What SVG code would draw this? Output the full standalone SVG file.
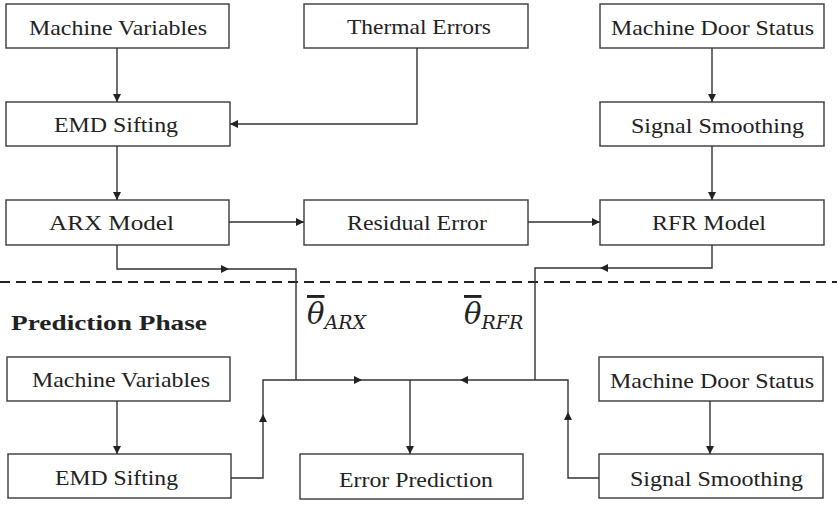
<svg xmlns="http://www.w3.org/2000/svg" width="837" height="506" viewBox="0 0 837 506">
<defs>
<style>
.box{fill:#fff;stroke:#3a3a3a;stroke-width:1.4}
.t{font-family:"Liberation Serif",Tinos,"Times New Roman","DejaVu Serif",serif;font-size:21px;fill:#222;text-anchor:middle}
.ln{fill:none;stroke:#333;stroke-width:1.4}
.ah{fill:#222}
.th{font-family:"DejaVu Serif","Liberation Serif",serif;font-style:italic;fill:#222}
</style>
<marker id="arr" viewBox="0 0 10 10" refX="10" refY="5" markerWidth="8" markerHeight="8" markerUnits="userSpaceOnUse" orient="auto">
<path d="M0,0 L10,5 L0,10 Z" fill="#222"/>
</marker>
</defs>
<rect width="837" height="506" fill="#fff"/>

<g id="n-machine-variables-top"><rect class="box" x="6" y="4" width="223" height="44"/><text class="t" x="118" y="35" textLength="178" lengthAdjust="spacingAndGlyphs">Machine Variables</text></g>
<g id="n-thermal-errors"><rect class="box" x="304" y="4" width="224" height="44"/><text class="t" x="419" y="34" textLength="144" lengthAdjust="spacingAndGlyphs">Thermal Errors</text></g>
<g id="n-door-top"><rect class="box" x="600" y="4" width="224" height="44"/><text class="t" x="712.5" y="35" textLength="203" lengthAdjust="spacingAndGlyphs">Machine Door Status</text></g>
<g id="n-emd-top"><rect class="box" x="6" y="102" width="224" height="44"/><text class="t" x="116" y="132" textLength="124" lengthAdjust="spacingAndGlyphs">EMD Sifting</text></g>
<g id="n-smooth-top"><rect class="box" x="600" y="102" width="224" height="44"/><text class="t" x="717.5" y="133" textLength="173" lengthAdjust="spacingAndGlyphs">Signal Smoothing</text></g>
<g id="n-arx"><rect class="box" x="6" y="200" width="223" height="45"/><text class="t" x="111.5" y="230" textLength="125" lengthAdjust="spacingAndGlyphs">ARX  Model</text></g>
<g id="n-residual"><rect class="box" x="304" y="200" width="224" height="45"/><text class="t" x="417" y="230" textLength="140" lengthAdjust="spacingAndGlyphs">Residual Error</text></g>
<g id="n-rfr"><rect class="box" x="600" y="200" width="224" height="45"/><text class="t" x="709" y="230" textLength="114" lengthAdjust="spacingAndGlyphs">RFR Model</text></g>

<g id="n-phase-label"><text x="11" y="330" textLength="196" lengthAdjust="spacingAndGlyphs" style="font-family:'Liberation Serif',Tinos,'Times New Roman','DejaVu Serif',serif;font-weight:bold;font-size:22px;fill:#222">Prediction Phase</text></g>
<g id="n-theta-arx"><text class="th" x="307" y="324" font-size="29"><tspan text-decoration="overline">θ</tspan><tspan font-size="19" dy="5">ARX</tspan></text></g>
<g id="n-theta-rfr"><text class="th" x="464" y="324" font-size="29"><tspan text-decoration="overline">θ</tspan><tspan font-size="19" dy="5">RFR</tspan></text></g>

<g id="n-machine-variables-bot"><rect class="box" x="7" y="357" width="223" height="44"/><text class="t" x="121" y="387" textLength="178" lengthAdjust="spacingAndGlyphs">Machine Variables</text></g>
<g id="n-emd-bot"><rect class="box" x="8" y="454" width="223" height="44"/><text class="t" x="116.5" y="485" textLength="123" lengthAdjust="spacingAndGlyphs">EMD Sifting</text></g>
<g id="n-error-prediction"><rect class="box" x="300" y="454" width="223" height="45"/><text class="t" x="416" y="487" textLength="154" lengthAdjust="spacingAndGlyphs">Error Prediction</text></g>
<g id="n-door-bot"><rect class="box" x="599" y="357" width="224" height="44"/><text class="t" x="712" y="388" textLength="204" lengthAdjust="spacingAndGlyphs">Machine Door Status</text></g>
<g id="n-smooth-bot"><rect class="box" x="599" y="454" width="224" height="44"/><text class="t" x="716.5" y="486" textLength="173" lengthAdjust="spacingAndGlyphs">Signal Smoothing</text></g>

<g id="connectors">
<line x1="0" y1="282" x2="837" y2="282" stroke="#222" stroke-width="2" stroke-dasharray="10,6"/>
<line class="ln" x1="117" y1="48" x2="117" y2="102" marker-end="url(#arr)"/>
<polyline class="ln" points="417,48 417,124 230,124" marker-end="url(#arr)"/>
<line class="ln" x1="712" y1="48" x2="712" y2="102" marker-end="url(#arr)"/>
<line class="ln" x1="117" y1="146" x2="117" y2="200" marker-end="url(#arr)"/>
<line class="ln" x1="712" y1="146" x2="712" y2="200" marker-end="url(#arr)"/>
<line class="ln" x1="229" y1="222" x2="304" y2="222" marker-end="url(#arr)"/>
<line class="ln" x1="528" y1="222" x2="600" y2="222" marker-end="url(#arr)"/>

<polyline class="ln" points="117,245 117,269 296,269 296,380"/>
<polygon class="ah" points="229,269 221,265 221,273"/>
<polyline class="ln" points="712,245 712,268 535,268 535,380"/>
<polygon class="ah" points="600,268 608,264 608,272"/>

<polyline class="ln" points="231,478 263,478 263,380 535,380"/>
<polygon class="ah" points="263,414 259,422 267,422"/>
<polygon class="ah" points="362,380 354,376 354,384"/>
<polyline class="ln" points="599,478 568,478 568,380 535,380"/>
<polygon class="ah" points="568,412 564,420 572,420"/>
<polygon class="ah" points="460,380 468,376 468,384"/>
<line class="ln" x1="410" y1="380" x2="410" y2="454" marker-end="url(#arr)"/>

<line class="ln" x1="117" y1="401" x2="117" y2="454" marker-end="url(#arr)"/>
<line class="ln" x1="710" y1="401" x2="710" y2="454" marker-end="url(#arr)"/>
</g>
</svg>
